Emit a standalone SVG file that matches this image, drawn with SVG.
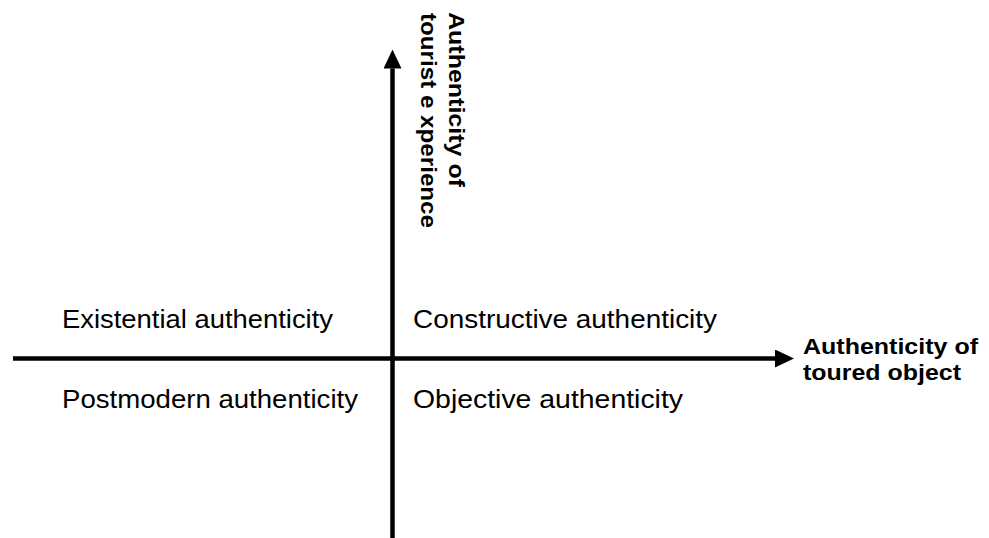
<svg xmlns="http://www.w3.org/2000/svg" width="989" height="538" viewBox="0 0 989 538">
<style>
.ax{stroke:#000;stroke-width:4.5;fill:none}
.lbl{font-family:"Liberation Sans",Arial,sans-serif;font-size:26.5px;fill:#000}
.axl{font-family:"Liberation Sans",Arial,sans-serif;font-size:22.5px;font-weight:bold;fill:#000}
</style>
<defs>
<marker id="ah" markerWidth="19" markerHeight="18" refX="0" refY="9" orient="auto" markerUnits="userSpaceOnUse" viewBox="0 0 19 18">
<path d="M0,0 L19,9 L0,18 Z" fill="#000"/>
</marker>
</defs>
<rect width="989" height="538" fill="#fff"/>
<g id="connectors">
<line class="ax" x1="392.5" y1="538" x2="392.5" y2="68.5" marker-end="url(#ah)"/>
<line class="ax" x1="13" y1="358.5" x2="775" y2="358.5" marker-end="url(#ah)"/>
</g>
<g id="y-axis-label">
<text class="axl" transform="translate(449,12) rotate(90)" x="0" y="0" textLength="175" lengthAdjust="spacingAndGlyphs">Authenticity of</text>
<text class="axl" transform="translate(421,13) rotate(90)" x="0" y="0" textLength="215" lengthAdjust="spacingAndGlyphs">tourist e xperience</text>
</g>
<g id="x-axis-label">
<text class="axl" x="803" y="353.5" textLength="175" lengthAdjust="spacingAndGlyphs">Authenticity of</text>
<text class="axl" x="803" y="380" textLength="158" lengthAdjust="spacingAndGlyphs">toured object</text>
</g>
<g id="existential"><text class="lbl" x="62" y="327.5" textLength="271" lengthAdjust="spacingAndGlyphs">Existential authenticity</text></g>
<g id="constructive"><text class="lbl" x="413" y="327.5" textLength="304" lengthAdjust="spacingAndGlyphs">Constructive authenticity</text></g>
<g id="postmodern"><text class="lbl" x="62" y="408" textLength="296" lengthAdjust="spacingAndGlyphs">Postmodern authenticity</text></g>
<g id="objective"><text class="lbl" x="413" y="408" textLength="270" lengthAdjust="spacingAndGlyphs">Objective authenticity</text></g>
</svg>
